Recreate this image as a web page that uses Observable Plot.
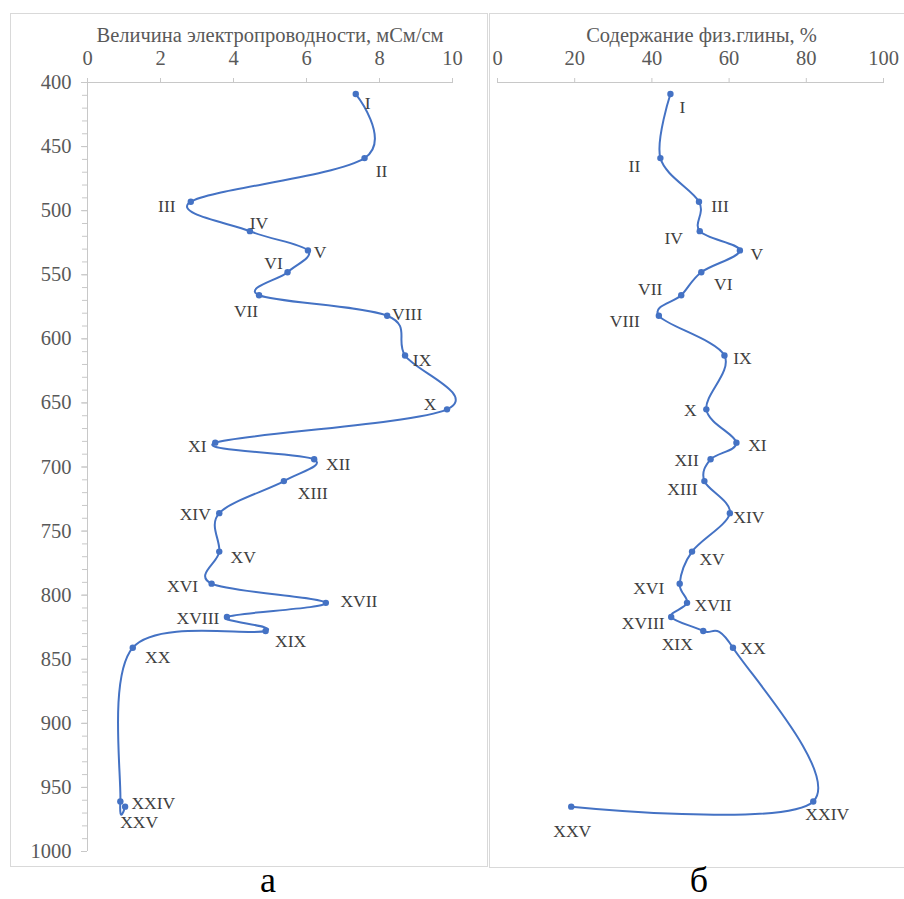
<!DOCTYPE html>
<html>
<head>
<meta charset="utf-8">
<script src="https://cdn.jsdelivr.net/npm/d3@7"></script>
<script src="https://cdn.jsdelivr.net/npm/@observablehq/plot@0.6"></script>
<style>
  html, body { margin: 0; padding: 0; background: #fff; }
  #page { position: relative; width: 904px; height: 899px; overflow: hidden; background: #fff; }
  .box { position: absolute; border: 1px solid #d9d9d9; box-sizing: border-box; }
  .panel { position: absolute; top: 0; }
  .cap { position: absolute; font-family: "Liberation Serif", serif; font-size: 36px; height: 36px; color: #000; transform: translateX(-50%); line-height: 36px; }
</style>
</head>
<body>
<div id="page">
  <div class="box" style="left:10px; top:13px; width:478px; height:854px;"></div>
  <div class="box" style="left:489px; top:13px; width:430px; height:855px;"></div>
  <div id="left" class="panel" style="left:0px;"></div>
  <div id="right" class="panel" style="left:488px;"></div>
  <div class="cap" style="left:268px; top:862px;">а</div>
  <div class="cap" style="left:699px; top:862px;">б</div>
</div>
<script>
// ---- data ----
const sampleLabels = ["I","II","III","IV","V","VI","VII","VIII","IX","X","XI","XII","XIII","XIV","XV","XVI","XVII","XVIII","XIX","XX","XXIV","XXV"];
const depth = [409, 459, 493, 516, 531, 548, 566, 582, 613, 655, 681, 694, 711, 736, 766, 791, 806, 817, 828, 841, 961, 965];
const conductivity = [7.35, 7.59, 2.83, 4.45, 6.04, 5.48, 4.70, 8.21, 8.70, 9.85, 3.50, 6.21, 5.38, 3.61, 3.61, 3.40, 6.53, 3.82, 4.88, 1.24, 0.90, 1.03];
const clay = [44.8, 42.2, 52.2, 52.4, 62.8, 52.8, 47.6, 41.8, 58.8, 54.1, 61.9, 55.2, 53.6, 60.2, 50.4, 47.2, 49.1, 45.0, 53.3, 61.0, 81.8, 19.1];
const conductivityTicks = [0, 2, 4, 6, 8, 10];
const clayTicks = [0, 20, 40, 60, 80, 100];
const depthTicks = [400, 450, 500, 550, 600, 650, 700, 750, 800, 850, 900, 950, 1000];
const depthMinorTicks = d3.range(400, 1001, 10);
const conductivityTitle = "Величина электропроводности, мСм/см";
const clayTitle = "Содержание физ.глины, %";

// ---- label placement (pixel offsets from each point) ----
const leftLabelOffsets = [[12,9],[17,13],[-24,5],[9,-8],[12,2],[-14,-9],[-13,16],[20,-1],[17,5],[-17,-5],[-18,4],[24,5],[29,12],[-24,1],[24,6],[-29,3],[33,-1],[-29,1],[25,10],[25,10],[33,2],[14,16]];
const rightLabelOffsets = [[12,13],[-26,8],[21,5],[-26,7],[17,4],[22,12],[-31,-6],[-34,6],[18,3],[-16,1],[21,3],[-24,1],[-22,8],[19,4],[20,8],[-31,5],[26,3],[-28,6],[-26,13],[20,1],[14,13],[1,25]];

const BLUE = "#4472C4";
const AXIS = "#c8c8c8";
const TXT = "#595959";
const LBL = "#404040";
const FONT = "Liberation Serif";
const fmt = d3.format("d");

function panel({values, xTicks, title, titleDx, offsets, width, marginLeft, marginRight, showY}) {
  const rows = values.map((v, i) => ({v, d: depth[i], name: sampleLabels[i], i}));
  const marks = [];
  if (showY) {
    marks.push(Plot.ruleX([xTicks[0]], {stroke: AXIS, strokeWidth: 1}));
    marks.push(Plot.axisY(depthMinorTicks, {anchor: "left", tickSize: 5, text: null, stroke: AXIS, label: null}));
    marks.push(Plot.axisY(depthTicks, {anchor: "left", tickSize: 6, text: null, stroke: AXIS, label: null}));
    marks.push(Plot.axisY(depthTicks, {anchor: "left", tickSize: 0, tickPadding: 16, fill: TXT, label: null, fontSize: 20.5, fontFamily: FONT, tickFormat: fmt}));
  }
  marks.push(Plot.ruleY([depthTicks[0]], {stroke: AXIS, strokeWidth: 1}));
  marks.push(Plot.axisX(xTicks, {anchor: "top", tickSize: 5, text: null, stroke: AXIS, label: null}));
  marks.push(Plot.axisX(xTicks, {anchor: "top", tickSize: 0, tickPadding: 18, fill: TXT, label: null, fontSize: 20.5, fontFamily: FONT, tickFormat: fmt}));
  marks.push(Plot.text([title], {frameAnchor: "top", dy: -55, dx: titleDx, fill: TXT, fontSize: 20.5, fontFamily: FONT}));
  marks.push(Plot.line(rows, {x: "v", y: "d", curve: "cardinal", stroke: BLUE, strokeWidth: 2}));
  marks.push(Plot.dot(rows, {x: "v", y: "d", r: 3.2, fill: BLUE, stroke: "none"}));
  rows.forEach((r, i) => {
    marks.push(Plot.text([r], {x: "v", y: "d", text: "name", dx: offsets[i][0], dy: offsets[i][1], fill: LBL, fontSize: 17.5, fontFamily: FONT}));
  });
  return Plot.plot({
    width, height: 870,
    marginLeft, marginRight, marginTop: 82, marginBottom: 19,
    x: {domain: [xTicks[0], xTicks[xTicks.length - 1]], axis: null},
    y: {domain: [400, 1000], reverse: true, axis: null},
    style: {fontFamily: FONT, fontSize: "17px", background: "transparent", overflow: "visible"},
    marks
  });
}

document.getElementById("left").appendChild(panel({
  values: conductivity, xTicks: conductivityTicks, title: conductivityTitle, titleDx: 0,
  offsets: leftLabelOffsets, width: 488, marginLeft: 87, marginRight: 36, showY: true
}));
document.getElementById("right").appendChild(panel({
  values: clay, xTicks: clayTicks, title: clayTitle, titleDx: 11,
  offsets: rightLabelOffsets, width: 416, marginLeft: 9, marginRight: 21, showY: false
}));
</script>
</body>
</html>
